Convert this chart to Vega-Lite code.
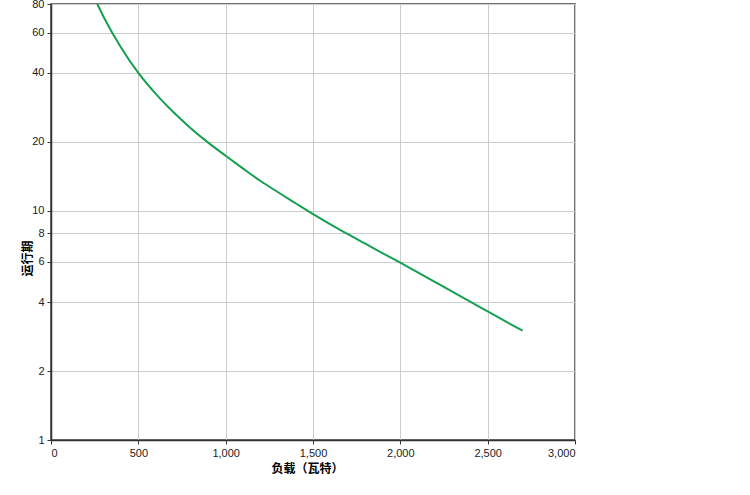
{
  "$schema": "https://vega.github.io/schema/vega-lite/v6.json",
  "width": 524,
  "height": 436,
  "autosize": {"type": "none"},
  "padding": {"left": 51, "top": 4, "right": 175, "bottom": 55},
  "background": "white",
  "config": {
    "view": {"stroke": "#444444", "strokeWidth": 1.5},
    "font": "Liberation Sans"
  },
  "data": {
    "values": [
      {"load": 265, "runtime": 80},
      {"load": 300, "runtime": 70.6},
      {"load": 400, "runtime": 51.8},
      {"load": 500, "runtime": 40},
      {"load": 600, "runtime": 32.4},
      {"load": 700, "runtime": 27.0},
      {"load": 800, "runtime": 22.96},
      {"load": 900, "runtime": 19.86},
      {"load": 1000, "runtime": 17.4},
      {"load": 1100, "runtime": 15.3},
      {"load": 1200, "runtime": 13.5},
      {"load": 1300, "runtime": 12.06},
      {"load": 1400, "runtime": 10.8},
      {"load": 1500, "runtime": 9.68},
      {"load": 1600, "runtime": 8.74},
      {"load": 1700, "runtime": 7.91},
      {"load": 1800, "runtime": 7.19},
      {"load": 1900, "runtime": 6.53},
      {"load": 2000, "runtime": 5.94},
      {"load": 2100, "runtime": 5.39},
      {"load": 2200, "runtime": 4.89},
      {"load": 2300, "runtime": 4.43},
      {"load": 2400, "runtime": 4.02},
      {"load": 2500, "runtime": 3.64},
      {"load": 2600, "runtime": 3.3},
      {"load": 2700, "runtime": 3.0}
    ]
  },
  "mark": {"type": "line", "color": "#14a050", "strokeWidth": 2, "interpolate": "monotone"},
  "encoding": {
    "x": {
      "field": "load",
      "type": "quantitative",
      "scale": {"domain": [0, 3000], "nice": false},
      "axis": {
        "values": [0, 500, 1000, 1500, 2000, 2500, 3000],
        "format": ",d",
        "title": "负载（瓦特）",
        "titleFont": "Noto Sans CJK SC",
        "titleFontSize": 12,
        "titleFontWeight": "bold",
        "titleColor": "#000000",
        "titleX": 256,
        "titleY": 28,
        "titleBaseline": "middle",
        "titleAlign": "center",
        "labelFontSize": 11,
        "labelColor": "#222222",
        "labelPadding": 3,
        "tickSize": 4,
        "tickColor": "#333333",
        "domainColor": "#333333",
        "domainWidth": 1.5,
        "gridColor": "#cccccc",
        "gridWidth": 1
      }
    },
    "y": {
      "field": "runtime",
      "type": "quantitative",
      "scale": {"type": "log", "domain": [1, 80], "nice": false},
      "axis": {
        "values": [1, 2, 4, 6, 8, 10, 20, 40, 60, 80],
        "format": "d",
        "title": "运行期",
        "titleFont": "Noto Sans CJK SC",
        "titleFontSize": 12,
        "titleFontWeight": "bold",
        "titleColor": "#000000",
        "titleAngle": 270,
        "titleX": -24,
        "titleY": 254,
        "titleAlign": "center",
        "titleBaseline": "middle",
        "labelFontSize": 11,
        "labelColor": "#222222",
        "labelPadding": 3,
        "tickSize": 4,
        "tickColor": "#333333",
        "domainColor": "#333333",
        "domainWidth": 1.5,
        "gridColor": "#cccccc",
        "gridWidth": 1
      }
    }
  }
}
